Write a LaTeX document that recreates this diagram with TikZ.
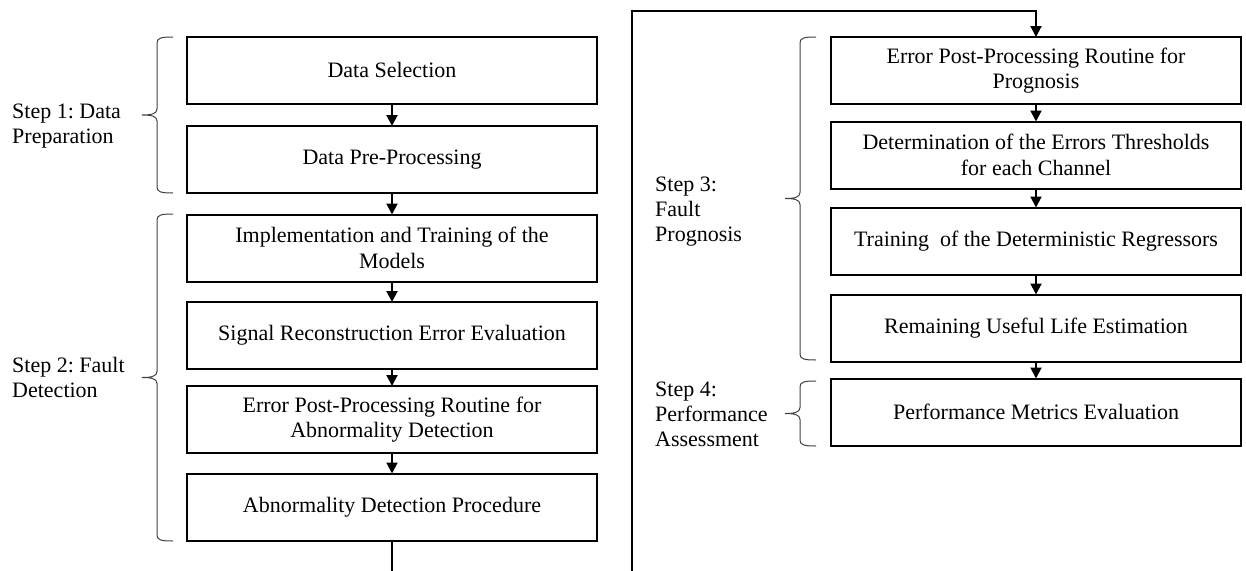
\documentclass[tikz,border=0pt]{standalone}
\usepackage{fontspec}
\setmainfont{Liberation Serif}
\usetikzlibrary{arrows.meta}
\frenchspacing
\tikzset{
  box/.style={draw=black, line width=2pt, minimum width=410pt, minimum height=67pt,
    inner sep=2pt, outer sep=0pt, align=center, font=\fontsize{22}{25.5}\selectfont},
  lbl/.style={inner sep=0pt, anchor=west, align=left, font=\fontsize{22}{25}\selectfont},
  flow/.style={line width=2pt, -{Triangle[width=11pt,length=11pt]}},
  bracestyle/.style={line width=1pt, draw=black!75},
}
\newcommand{\stepbrace}[3]{%
  \pgfmathsetmacro\bmid{(#2+#3)/2}%
  \draw[bracestyle] (#1,#2) .. controls (#1-12,#2) and (#1-16,#2+1) .. (#1-16,#2+6)
    -- (#1-16,\bmid-6) .. controls (#1-16,\bmid-1) and (#1-22,\bmid) .. (#1-31,\bmid)
    .. controls (#1-22,\bmid) and (#1-16,\bmid+1) .. (#1-16,\bmid+6)
    -- (#1-16,#3-6) .. controls (#1-16,#3-1) and (#1-12,#3) .. (#1,#3);%
}
\begin{document}
\begin{tikzpicture}[x=1pt,y=-1pt]
\useasboundingbox (0,0) rectangle (1246,570);
% left column
\node[box] (l1) at (392,70) {Data Selection};
\node[box] (l2) at (392,159.5) {Data Pre-Processing};
\node[box] (l3) at (392,248) {Implementation and Training of the\\Models};
\node[box] (l4) at (392,335.5) {Signal Reconstruction Error Evaluation};
\node[box] (l5) at (392,419.5) {Error Post-Processing Routine for\\Abnormality Detection};
\node[box] (l6) at (392,507) {Abnormality Detection Procedure};
% right column
\node[box] (r1) at (1036,70.5) {Error Post-Processing Routine for\\Prognosis};
\node[box] (r2) at (1036,155) {Determination of the Errors Thresholds\\for each Channel};
\node[box] (r3) at (1036,241) {Training~ of the Deterministic Regressors};
\node[box] (r4) at (1036,328) {Remaining Useful Life Estimation};
\node[box] (r5) at (1036,412) {Performance Metrics Evaluation};
% step labels
\node[lbl] (s1) at (12,126.5) {Step 1: Data\\Preparation};
\node[lbl] (s2) at (12,377.5) {Step 2: Fault\\Detection};
\node[lbl] (s3) at (655,211.5) {Step 3:\\Fault\\Prognosis};
\node[lbl] (s4) at (655,414) {Step 4:\\Performance\\Assessment};
% braces
\stepbrace{173}{37}{193}
\stepbrace{173}{214}{541}
\stepbrace{816}{37}{360}
\stepbrace{816}{381}{446}
% arrows
\draw[flow] (l1) -- (l2);
\draw[flow] (l2) -- (l3);
\draw[flow] (l3) -- (l4);
\draw[flow] (l4) -- (l5);
\draw[flow] (l5) -- (l6);
\draw[flow] (r1) -- (r2);
\draw[flow] (r2) -- (r3);
\draw[flow] (r3) -- (r4);
\draw[flow] (r4) -- (r5);
% off-page connector
\coordinate (cutA) at (l6.south |- 0,571);
\coordinate (cutB) at (632,571);
\coordinate (bend) at (632,11);
\draw[line width=2pt] (l6.south) -- (cutA);
\draw[line width=2.6pt] (cutB) -- (bend);
\draw[flow] ([xshift=-1.3pt]bend) -| (r1.north);
\end{tikzpicture}
\end{document}
